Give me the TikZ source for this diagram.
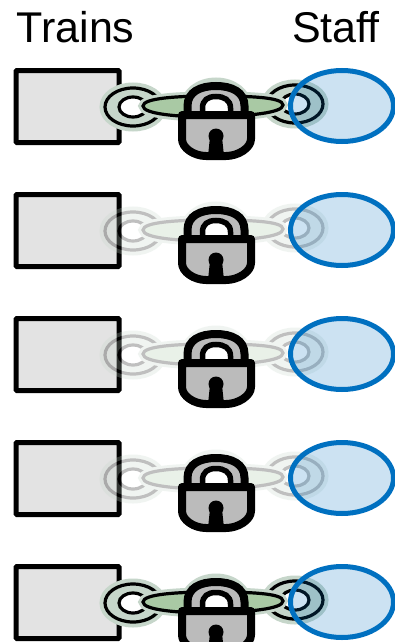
\documentclass[tikz,border=0pt]{standalone}
\usepackage{fontspec}
\setmainfont{Liberation Sans}
\usepackage{tikz}
\usetikzlibrary{shapes.geometric}
\definecolor{chainhalo}{HTML}{C6D6CA}
\definecolor{chaingreen}{HTML}{A9C9A4}
\definecolor{lockgrey}{HTML}{BBBBBB}
\definecolor{staffblue}{HTML}{0070C0}
\tikzset{
    heading/.style={font=\fontsize{43}{43}\selectfont, anchor=base, inner sep=0pt},
    trainbox/.style={draw=black, line width=5pt, rounded corners=1pt, fill=black!11, minimum width=103pt, minimum height=72pt, inner sep=0pt},
    staffoval/.style={ellipse, draw=staffblue, line width=5pt, fill=staffblue, fill opacity=0.2, draw opacity=1, minimum width=103pt, minimum height=71pt, inner sep=0pt},
    halo/.style={chainhalo, line width=11pt},
    link/.style={black, line width=3.2pt},
}
\begin{document}
\begin{tikzpicture}[x=1pt, y=-1pt]
    \clip (0,0) rectangle (395,642);
    \fill[white] (0,0) rectangle (395,642);

    % Headings
    \node[heading] (trains) at (75.5,43) {Trains};
    \node[heading] (staff) at (336,43) {Staff};

    % One row per connection: offset / chain opacity
    \foreach \row/\off/\fade in {a/0/1, b/124/0.25, c/248/0.25, d/372/0.25, e/496/1} {
        \begin{scope}[yshift=-\off pt]
            % Train
            \node[trainbox] (train\row) at (67.5,106.5) {};

            % Chain
            \begin{scope}[opacity=\fade, transparency group]
                \draw[chainhalo, line width=9pt] (216,106) ellipse (31 and 24);
                \filldraw[halo, fill=chainhalo] (133,107) ellipse (28 and 19);
                \filldraw[halo, fill=chainhalo] (295,104) ellipse (28 and 19);
                \fill[white] (133,107) ellipse (13 and 9);
                \fill[white] (295,104) ellipse (13 and 9);
                \draw[link] (133,107) ellipse (28 and 19);
                \draw[link] (295,104) ellipse (28 and 19);
                \draw[link] (133,107) ellipse (14 and 10);
                \draw[link] (295,104) ellipse (14 and 10);
                \draw[chainhalo, line width=9pt] (143,106) .. controls (143,98) and (178,96) .. (212,96)
                    .. controls (248,96) and (283,97) .. (283,105) .. controls (283,113) and (248,116) .. (212,117)
                    .. controls (178,117) and (143,114) .. cycle;
                \filldraw[link, fill=chaingreen] (143,106) .. controls (143,98) and (178,96) .. (212,96)
                    .. controls (248,96) and (283,97) .. (283,105) .. controls (283,113) and (248,116) .. (212,117)
                    .. controls (178,117) and (143,114) .. cycle;
            \end{scope}

            % Staff
            \node[staffoval] (person\row) at (342,106) {};

            % Lock: shackle
            \filldraw[lockgrey, draw=black, line width=8pt] (187.5,118) -- (187.5,106)
                .. controls (187.5,92) and (200,86) .. (216,86)
                .. controls (232,86) and (244.5,92) .. (244.5,106) -- (244.5,118) -- cycle;
            \filldraw[white, draw=black, line width=5.5pt] (202.5,118) -- (202.5,108)
                .. controls (202.5,100) and (208,96.5) .. (216,96.5)
                .. controls (224,96.5) and (230.5,100) .. (230.5,108) -- (230.5,118) -- cycle;

            % Lock: body and keyhole
            \filldraw[lockgrey, draw=black, line width=8pt, line join=round] (182,115) -- (251,115) -- (251,139)
                .. controls (251,148) and (238,156) .. (226,156) -- (206,156)
                .. controls (194,156) and (182,148) .. (182,139) -- cycle;
            \fill[black] (216,136) circle (7.5);
            \fill[black] (210,137) -- (222,137) -- (224,156) -- (208,156) -- cycle;
        \end{scope}
    }
\end{tikzpicture}
\end{document}
